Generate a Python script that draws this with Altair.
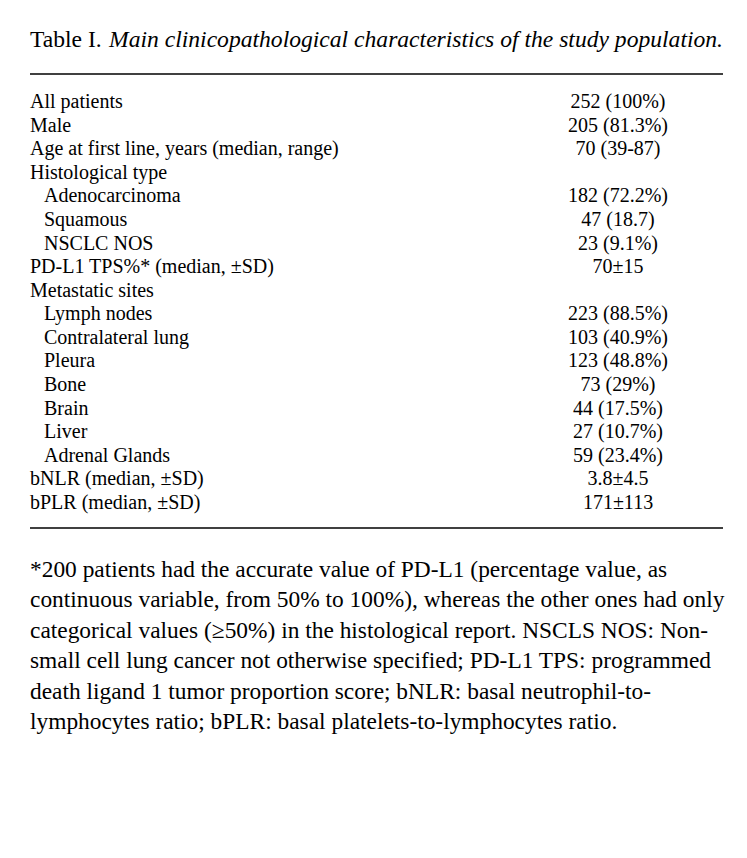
import altair as alt
import pandas as pd

title_plain = "Table I."
title_italic = "Main clinicopathological characteristics of the study population."

labels = [
    "All patients",
    "Male",
    "Age at first line, years (median, range)",
    "Histological type",
    "Adenocarcinoma",
    "Squamous",
    "NSCLC NOS",
    "PD-L1 TPS%* (median, ±SD)",
    "Metastatic sites",
    "Lymph nodes",
    "Contralateral lung",
    "Pleura",
    "Bone",
    "Brain",
    "Liver",
    "Adrenal Glands",
    "bNLR (median, ±SD)",
    "bPLR (median, ±SD)",
]
values = [
    "252 (100%)",
    "205 (81.3%)",
    "70 (39-87)",
    "",
    "182 (72.2%)",
    "47 (18.7)",
    "23 (9.1%)",
    "70±15",
    "",
    "223 (88.5%)",
    "103 (40.9%)",
    "123 (48.8%)",
    "73 (29%)",
    "44 (17.5%)",
    "27 (10.7%)",
    "59 (23.4%)",
    "3.8±4.5",
    "171±113",
]
indent = [0, 0, 0, 0, 1, 1, 1, 0, 0, 1, 1, 1, 1, 1, 1, 1, 0, 0]

footnote = [
    "*200 patients had the accurate value of PD-L1 (percentage value, as",
    "continuous variable, from 50% to 100%), whereas the other ones had only",
    "categorical values (≥50%) in the histological report. NSCLS NOS: Non-",
    "small cell lung cancer not otherwise specified; PD-L1 TPS: programmed",
    "death ligand 1 tumor proportion score; bNLR: basal neutrophil-to-",
    "lymphocytes ratio; bPLR: basal platelets-to-lymphocytes ratio.",
]

FONT = "Liberation Serif"
FS = 20
FS_TITLE = 23.6
FS_NOTE = 23.4

rows = pd.DataFrame({"row": list(range(len(labels))), "label": labels,
                     "value": values, "indent": indent})
notes = pd.DataFrame({"line": list(range(len(footnote))), "text": footnote})
one = pd.DataFrame({"k": [0]})

yrow = alt.Y("row:Q", scale=alt.Scale(domain=[0, len(labels) - 1], range=[94, 495]), axis=None)

label_layer = alt.Chart(rows).mark_text(
    align="left", baseline="middle", font=FONT, fontSize=FS, color="black"
).encode(
    x=alt.X("indent:Q", scale=alt.Scale(domain=[0, 1], range=[22, 36]), axis=None),
    y=yrow,
    text="label:N",
)

value_layer = alt.Chart(rows).mark_text(
    align="center", baseline="middle", font=FONT, fontSize=FS, color="black"
).encode(
    x=alt.value(610),
    y=yrow,
    text="value:N",
)

note_layer = alt.Chart(notes).mark_text(
    align="left", baseline="middle", font=FONT, fontSize=FS_NOTE, color="black"
).encode(
    x=alt.value(22),
    y=alt.Y("line:Q", scale=alt.Scale(domain=[0, len(footnote) - 1], range=[562, 714]), axis=None),
    text="text:N",
)

t1 = alt.Chart(one).mark_text(
    align="left", baseline="middle", font=FONT, fontSize=FS_TITLE, color="black", text=title_plain
).encode(x=alt.value(22), y=alt.value(32))

t2 = alt.Chart(one).mark_text(
    align="left", baseline="middle", font=FONT, fontSize=FS_TITLE, fontStyle="italic",
    color="black", text=title_italic
).encode(x=alt.value(101), y=alt.value(32))

rule_top = alt.Chart(one).mark_rule(color="black", strokeWidth=1.5).encode(
    x=alt.value(22), x2=alt.value(715), y=alt.value(66))
rule_bot = alt.Chart(one).mark_rule(color="black", strokeWidth=1.5).encode(
    x=alt.value(22), x2=alt.value(715), y=alt.value(520))

chart = alt.layer(
    rule_top, rule_bot, t1, t2, label_layer, value_layer, note_layer
).resolve_scale(x="independent", y="independent").properties(
    width=731, height=842, autosize=alt.AutoSizeParams(type="none"), padding=0,
    background="white",
).configure_view(stroke=None)

chart.save("out.html", embed_options={"renderer": "svg", "actions": False})
